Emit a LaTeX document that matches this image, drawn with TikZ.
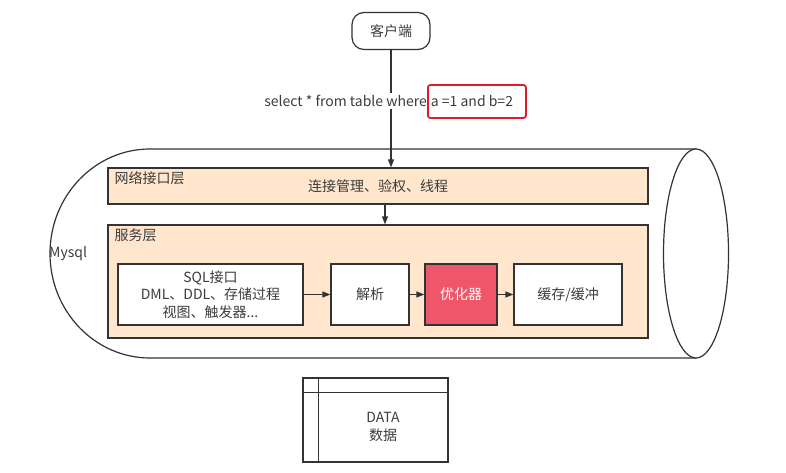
\documentclass[tikz,border=0pt]{standalone}
\usepackage{fontspec}
\setmainfont{Noto Sans CJK SC}
\usetikzlibrary{calc,arrows.meta}
\definecolor{ln}{HTML}{333333}
\definecolor{tx}{HTML}{3C3C3C}
\definecolor{peach}{HTML}{FFE6CC}
\definecolor{optred}{HTML}{F0566A}
\definecolor{boxred}{HTML}{E0192D}
\tikzset{
  every node/.style={text=tx, font=\fontsize{14}{17.5}\selectfont},
  ln/.style={draw=ln, line width=1.2pt},
  layer/.style={ln, fill=peach, minimum width=540pt, inner sep=0pt},
  blk/.style={ln, fill=white, minimum height=61pt, inner sep=0pt, align=center},
  arr/.style={ln, -{Triangle[length=8pt,width=6pt]}},
}
\begin{document}
\begin{tikzpicture}[x=1pt,y=-1pt]
\useasboundingbox (0,0) rectangle (786,473);
% cylinder
\draw[ln, fill=white] (150,149) -- (696,149) -- (696,358) -- (150,358)
  arc[start angle=90, end angle=270, x radius=100, y radius=104.5] -- cycle;
\draw[ln, fill=white] (696,253.5) ellipse[x radius=32.5, y radius=104.5];
\node[anchor=west, inner sep=0pt] (mysql) at (49,254) {Mysql};
% client
\node[ln, rounded corners=12pt, minimum width=78pt, minimum height=37pt, inner sep=0pt] (client) at (391,31) {客户端};
% layers
\node[layer, minimum height=36pt] (net) at (378,186) {连接管理、验权、线程};
\node[anchor=north west, inner sep=0pt] (netl) at ($(net.north west)+(7,4)$) {网络接口层};
\node[layer, minimum height=113pt] (svc) at (378,281.5) {};
\node[anchor=north west, inner sep=0pt] (svcl) at ($(svc.north west)+(7,4)$) {服务层};
% blocks
\node[blk, minimum width=185pt] (sql) at (210.5,294.5) {SQL接口\\DML、DDL、存储过程\\视图、触发器...};
\node[blk, minimum width=78pt] (parse) at (370,294.5) {解析};
\node[blk, minimum width=72pt, fill=optred, text=white] (opt) at (461,294.5) {优化器};
\node[blk, minimum width=108pt] (cache) at (568,294.5) {缓存/缓冲};
\draw[arr] (sql) -- (parse);
\draw[arr] (parse) -- (opt);
\draw[arr] (opt) -- (cache);
% arrows
\draw[arr] (client.south) -- (client.south |- net.north);
\coordinate (ns) at ($(net.south)+(7,0)$);
\draw[arr] (ns) -- (ns |- svc.north);
% query label
\node[anchor=east, fill=white, inner xsep=1pt, inner ysep=2pt] (q1) at (428,101) {select * from table where};
\node[anchor=west, draw=boxred, line width=1.8pt, rounded corners=2.5pt, minimum height=33pt, inner xsep=3pt, inner ysep=0pt] (q2) at (427,101.5) {\makebox[92pt][l]{a =1 and b=2}};
% data
\node[ln, minimum width=145pt, minimum height=84pt, inner sep=0pt] (data) at (375.5,420) {};
\draw[ln] ($(data.north west)+(16,0)$) -- ($(data.south west)+(16,0)$);
\draw[ln] ($(data.north west)+(0,15)$) -- ($(data.north east)+(0,15)$);
\node[align=center, inner sep=0pt] (datat) at (383,427) {DATA\\数据};
\end{tikzpicture}
\end{document}
